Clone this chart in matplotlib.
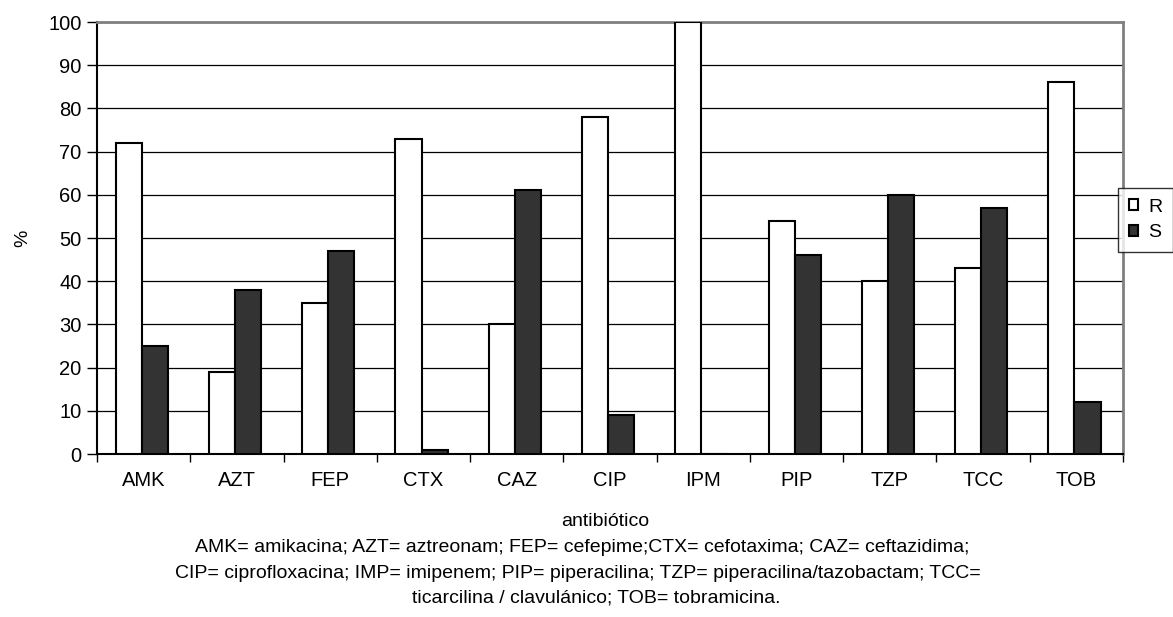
import numpy as np
import matplotlib.pyplot as plt

plt.rcParams['font.family'] = ['Liberation Sans', 'DejaVu Sans']

# data
categories = ['AMK', 'AZT', 'FEP', 'CTX', 'CAZ', 'CIP', 'IPM', 'PIP', 'TZP', 'TCC', 'TOB']
r_vals = [72, 19, 35, 73, 30, 78, 100, 54, 40, 43, 86]
s_vals = [25, 38, 47, 1, 61, 9, 0, 46, 60, 57, 12]
y_ticks = list(range(0, 101, 10))
caption_lines = ['AMK= amikacina; AZT= aztreonam; FEP= cefepime;CTX= cefotaxima; CAZ= ceftazidima;',
                 'CIP= ciprofloxacina; IMP= imipenem; PIP= piperacilina; TZP= piperacilina/tazobactam; TCC=',
                 'ticarcilina / clavulánico; TOB= tobramicina.']

fig = plt.figure(figsize=(11.73, 6.17), dpi=100)
ax = fig.add_axes([97 / 1173, 163 / 617, 1026 / 1173, 432 / 617])

x = np.arange(len(categories))
w = 0.28
ax.bar(x - w / 2 - 0.02, r_vals, w, color='white', edgecolor='black', linewidth=1.5, label='R', zorder=3)
ax.bar(x + w / 2 - 0.02, s_vals, w, color='#333333', edgecolor='black', linewidth=1.5, label='S', zorder=3)

ax.set_xlim(-0.5, len(categories) - 0.5)
ax.set_ylim(0, 100)
ax.set_yticks(y_ticks)
ax.yaxis.grid(True, color='black', linewidth=0.9, zorder=0)
ax.set_axisbelow(True)

# category labels between the boundary ticks
ax.set_xticks(np.arange(len(categories) + 1) - 0.5)
ax.set_xticklabels([])
ax.set_xticks(x, minor=True)
ax.set_xticklabels(categories, minor=True)
ax.tick_params(axis='x', which='major', length=6, width=1, direction='out')
ax.tick_params(axis='x', which='minor', length=0, pad=12, labelsize=14.5)
ax.tick_params(axis='y', length=7, width=1, direction='out', labelsize=14.5, pad=4)

for side in ['top', 'right']:
    ax.spines[side].set_color('#808080')
    ax.spines[side].set_linewidth(2)
for side in ['left', 'bottom']:
    ax.spines[side].set_color('black')
    ax.spines[side].set_linewidth(1.5)

fig.text(23 / 1173, 1 - 238 / 617, '%', rotation=90, ha='center', va='center', fontsize=14)

fig.text(605 / 1173, 1 - 522 / 617, 'antibiótico', ha='center', va='center', fontsize=14)
# caption lines, each centred like in the original
for line, cx, cy in zip(caption_lines, [582, 578, 596], [548, 573, 598]):
    fig.text(cx / 1173, 1 - cy / 617, line, ha='center', va='center', fontsize=14)

leg = fig.legend(loc='upper left', bbox_to_anchor=(1118 / 1173, 1 - 188 / 617), frameon=True,
                 fancybox=False, fontsize=14, handlelength=0.5, handleheight=0.5,
                 handletextpad=0.5, borderpad=0.55, labelspacing=0.45, borderaxespad=0)
leg.get_frame().set_edgecolor('black')
leg.get_frame().set_linewidth(1)

fig.savefig('out.png', dpi=100)
